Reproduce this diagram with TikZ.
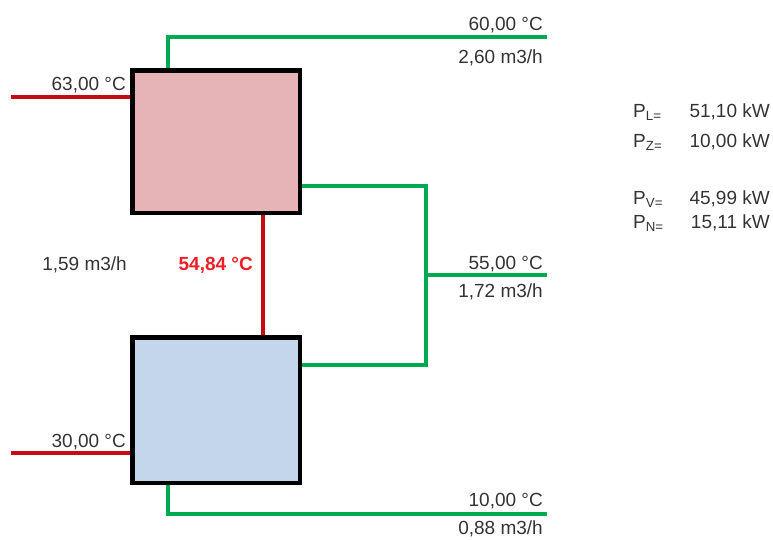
\documentclass[tikz,border=0pt]{standalone}
\usepackage{fontspec}
\setmainfont{Liberation Sans}
\usetikzlibrary{calc}
\definecolor{rot}{RGB}{200,10,20}
\definecolor{hellrot}{RGB}{240,30,40}
\definecolor{gruen}{RGB}{0,170,80}
\definecolor{rosa}{RGB}{230,180,182}
\definecolor{hblau}{RGB}{196,214,236}
\tikzset{every node/.style={font=\fontsize{19}{21}\selectfont,inner sep=0pt,text=black!80},
  box/.style={draw=black,line width=4.5pt,minimum width=167.5pt},
  warm/.style={rot,line width=3.5pt},kalt/.style={gruen,line width=3.5pt},
  lr/.style={anchor=base east},ll/.style={anchor=base west}}

\begin{document}
\begin{tikzpicture}[x=1pt,y=-1pt]
\useasboundingbox (0,0) rectangle (773,539);
% Waermetauscher
\node[box,fill=rosa,minimum height=142.5pt] (WO) at (216,141.5){};
\node[box,fill=hblau,minimum height=145.5pt] (WU) at (216,410){};
% Anschluesse
\coordinate (RO) at (11,97);\coordinate (RU) at (11,453);
\coordinate (GO) at (547,37);\coordinate (GM) at (547,275);\coordinate (GU) at (547,514);
\coordinate (K1) at (426,186);\coordinate (K2) at (426,365);
\draw[warm] (RO)--(RO-|WO.west);\draw[warm] (RU)--(RU-|WU.west);
\draw[warm] (WO.south-|263,0)--(WU.north-|263,0);
\draw[kalt] (WO.north-|168,0) |- (GO);
\draw[kalt] (WU.south-|168,0) |- (GU);
\draw[kalt] (K1-|WO.east)--(K1)--(K2)--(K2-|WU.east);
\draw[kalt] (K1|-GM)--(GM);
% Werte
\node[lr] (t1) at (543,30){60,00 °C};\node[lr] (v1) at (543,63){2,60 m3/h};
\node[lr] (t2) at (543,269){55,00 °C};\node[lr] (v2) at (543,297){1,72 m3/h};
\node[lr] (t3) at (543,506){10,00 °C};\node[lr] (v3) at (543,534){0,88 m3/h};
\node[lr] (t4) at (126,90){63,00 °C};\node[lr] (t5) at (126,447){30,00 °C};
\node[lr] (v4) at (127,270){1,59 m3/h};
\node[lr,text=hellrot,font=\fontsize{19}{21}\selectfont\bfseries] (t6) at (253,270){54,84 °C};
% Leistungen
\node[ll] (pl) at (633,117){P\textsubscript{L=}};\node[lr] (wl) at (770,117){51,10 kW};
\node[ll] (pz) at (633,147){P\textsubscript{Z=}};\node[lr] (wz) at (770,147){10,00 kW};
\node[ll] (pv) at (633,204){P\textsubscript{V=}};\node[lr] (wv) at (770,204){45,99 kW};
\node[ll] (pn) at (633,228){P\textsubscript{N=}};\node[lr] (wn) at (770,228){15,11 kW};
\end{tikzpicture}
\end{document}
